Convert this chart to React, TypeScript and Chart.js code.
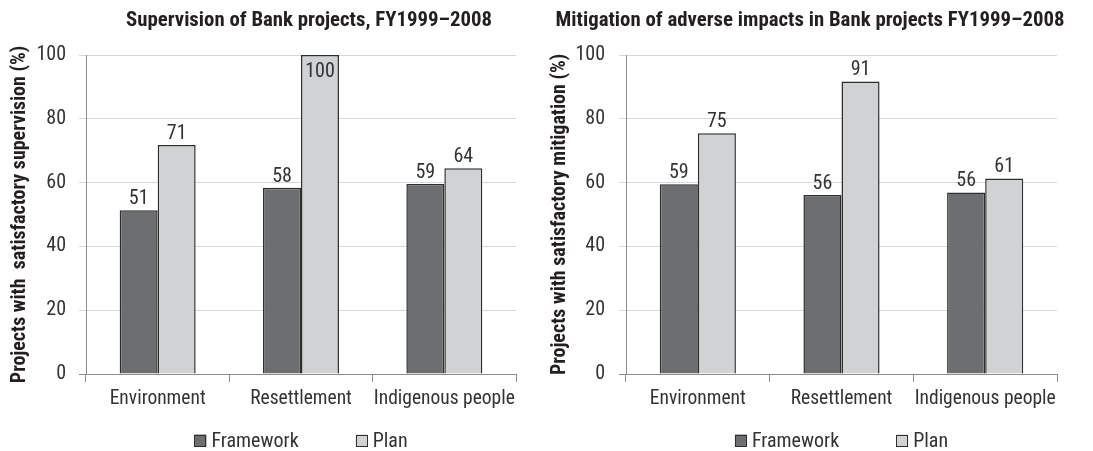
import React, { useEffect, useRef } from 'react';
import { Chart, registerables } from 'chart.js';

Chart.register(...registerables);

// ---------- data ----------
const categories = ['Environment', 'Resettlement', 'Indigenous people'];
const seriesNames = ['Framework', 'Plan'];
const yTickValues = [0, 20, 40, 60, 80, 100];

// Supervision panel (bar heights, labels as printed)
const supervisionFramework = [51.3, 58.4, 59.6];
const supervisionPlan = [71.8, 100, 64.5];
const supervisionFrameworkLabels = ['51', '58', '59'];
const supervisionPlanLabels = ['71', '100', '64'];

// Mitigation panel
const mitigationFramework = [59.5, 56.1, 56.9];
const mitigationPlan = [75.5, 91.7, 61.3];
const mitigationFrameworkLabels = ['59', '56', '56'];
const mitigationPlanLabels = ['75', '91', '61'];

const supervisionTitle = 'Supervision of Bank projects, FY1999\u20132008';
const mitigationTitle = 'Mitigation of adverse impacts in Bank projects FY1999\u20132008';
const supervisionYTitle = 'Projects with  satisfactory supervision (%)';
const mitigationYTitle = 'Projects with satisfactory mitigation (%)';

// ---------- style ----------
const NARROW = '"Roboto Condensed", "Liberation Sans", sans-serif';
const FRAMEWORK_FILL = '#6d6e70';
const PLAN_FILL = '#d1d2d4';
const BAR_BORDER = '#2e2e2e';
const AXIS_COLOR = '#8c8c8c';
const GRID_COLOR = '#d8d8d8';
const TEXT_COLOR = '#333333';

const panelTitlePlugin = {
  id: 'panelTitle',
  afterDraw(chart: any, _args: any, opts: any) {
    const ctx = chart.ctx;
    ctx.save();
    ctx.font = `bold ${opts.size}px ${NARROW}`;
    ctx.fillStyle = '#231f20';
    ctx.textAlign = 'center';
    ctx.textBaseline = 'alphabetic';
    ctx.fillText(opts.text, opts.x, opts.baseline);
    ctx.restore();
  },
};

const barLabelPlugin = {
  id: 'barLabels',
  afterDatasetsDraw(chart: any, _args: any, opts: any) {
    const ctx = chart.ctx;
    ctx.save();
    ctx.font = `${opts.size}px ${NARROW}`;
    ctx.fillStyle = TEXT_COLOR;
    ctx.textAlign = 'center';
    ctx.textBaseline = 'alphabetic';
    chart.data.datasets.forEach((_ds: any, i: number) => {
      const meta = chart.getDatasetMeta(i);
      meta.data.forEach((bar: any, j: number) => {
        const text = opts.labels[i][j];
        let y = bar.y - 6;
        if (bar.y - 22 < chart.chartArea.top) y = bar.y + 22;
        ctx.fillText(text, bar.x, y);
      });
    });
    ctx.restore();
  },
};

const panelLegendPlugin = {
  id: 'panelLegend',
  afterDraw(chart: any, _args: any, opts: any) {
    const ctx = chart.ctx;
    const box = 12;
    const gapText = 5;
    const gapItem = 57;
    ctx.save();
    ctx.font = `${opts.size}px ${NARROW}`;
    const items = chart.data.datasets.map((ds: any) => ({
      text: ds.label,
      fill: ds.backgroundColor,
      w: ctx.measureText(ds.label).width,
    }));
    let total = 0;
    items.forEach((it: any, i: number) => {
      total += box + gapText + it.w + (i < items.length - 1 ? gapItem : 0);
    });
    const ca = chart.chartArea;
    let x = (ca.left + ca.right) / 2 - total / 2;
    const baseline = opts.baseline;
    items.forEach((it: any) => {
      ctx.fillStyle = it.fill;
      ctx.fillRect(x, baseline - box, box, box);
      ctx.strokeStyle = '#2e2e2e';
      ctx.lineWidth = 1;
      ctx.strokeRect(Math.round(x) + 0.5, Math.round(baseline - box) + 0.5, box - 1, box - 1);
      x += box + gapText;
      ctx.fillStyle = TEXT_COLOR;
      ctx.textAlign = 'left';
      ctx.textBaseline = 'alphabetic';
      ctx.fillText(it.text, x, baseline);
      x += it.w + gapItem;
    });
    ctx.restore();
  },
};

type PanelProps = {
  framework: number[];
  plan: number[];
  frameworkLabels: string[];
  planLabels: string[];
  title: string;
  titleX: number;
  yTitle: string;
  yTitlePad: number;
  axisLeft: number;
  padRight: number;
  tickPad: number;
  width: number;
  left: number;
};

function Panel(p: PanelProps) {
  const ref = useRef<HTMLCanvasElement | null>(null);
  useEffect(() => {
    if (!ref.current) return;
    const chart = new Chart(ref.current, {
      type: 'bar',
      data: {
        labels: categories,
        datasets: [
          {
            label: seriesNames[0],
            data: p.framework,
            backgroundColor: FRAMEWORK_FILL,
            borderColor: BAR_BORDER,
            borderWidth: 1.5,
            categoryPercentage: 0.53,
            barPercentage: 1,
          },
          {
            label: seriesNames[1],
            data: p.plan,
            backgroundColor: PLAN_FILL,
            borderColor: BAR_BORDER,
            borderWidth: 1.5,
            categoryPercentage: 0.53,
            barPercentage: 1,
          },
        ],
      },
      plugins: [panelTitlePlugin, barLabelPlugin, panelLegendPlugin],
      options: {
        responsive: false,
        animation: false,
        devicePixelRatio: 1,
        layout: { padding: { top: 55, bottom: 37, left: 0, right: p.padRight } },
        plugins: {
          legend: { display: false },
          title: { display: false },
          tooltip: { enabled: false },
          panelTitle: { text: p.title, x: p.titleX, baseline: 26, size: 20.8 },
          barLabels: { labels: [p.frameworkLabels, p.planLabels], size: 20 },
          panelLegend: { baseline: 446.5, size: 20 },
        } as any,
        scales: {
          x: {
            grid: {
              display: true,
              drawOnChartArea: false,
              drawTicks: true,
              tickLength: 8,
              color: AXIS_COLOR,
              offset: true,
            },
            border: { display: true, color: AXIS_COLOR },
            ticks: {
              font: { family: NARROW, size: 19.5 },
              color: TEXT_COLOR,
              padding: 5,
              maxRotation: 0,
              minRotation: 0,
              autoSkip: false,
            },
            afterFit: (s: any) => {
              s.height = 40;
              s.paddingLeft = 0;
              s.paddingRight = 0;
            },
          },
          y: {
            min: 0,
            max: 100,
            afterBuildTicks: (s: any) => {
              s.ticks = yTickValues.map((v) => ({ value: v }));
            },
            ticks: {
              font: { family: NARROW, size: 20 },
              color: TEXT_COLOR,
              padding: p.tickPad,
            },
            grid: {
              color: (c: any) => (c.tick && c.tick.value === 0 ? AXIS_COLOR : GRID_COLOR),
              tickLength: 7,
            },
            border: { display: true, color: AXIS_COLOR },
            title: {
              display: true,
              text: p.yTitle,
              font: { family: NARROW, size: 20, weight: 'bold' },
              color: '#231f20',
              padding: { top: p.yTitlePad, bottom: 0 },
            },
            afterFit: (s: any) => {
              s.width = p.axisLeft;
            },
          },
        },
      } as any,
    });
    return () => chart.destroy();
  }, []);
  return (
    <canvas
      ref={ref}
      width={p.width}
      height={451}
      style={{ position: 'absolute', left: p.left, top: 0, width: p.width, height: 451 }}
    />
  );
}

export default function App() {
  return (
    <div
      style={{
        position: 'absolute',
        left: 0,
        top: 0,
        width: 1093,
        height: 451,
        background: '#ffffff',
        overflow: 'hidden',
      }}
    >
      <Panel
        framework={supervisionFramework}
        plan={supervisionPlan}
        frameworkLabels={supervisionFrameworkLabels}
        planLabels={supervisionPlanLabels}
        title={supervisionTitle}
        titleX={309}
        yTitle={supervisionYTitle}
        yTitlePad={8}
        axisLeft={86}
        padRight={30}
        tickPad={13}
        width={546}
        left={0}
      />
      <Panel
        framework={mitigationFramework}
        plan={mitigationPlan}
        frameworkLabels={mitigationFrameworkLabels}
        planLabels={mitigationPlanLabels}
        title={mitigationTitle}
        titleX={264}
        yTitle={mitigationYTitle}
        yTitlePad={2}
        axisLeft={80}
        padRight={36}
        tickPad={14}
        width={547}
        left={546}
      />
    </div>
  );
}
